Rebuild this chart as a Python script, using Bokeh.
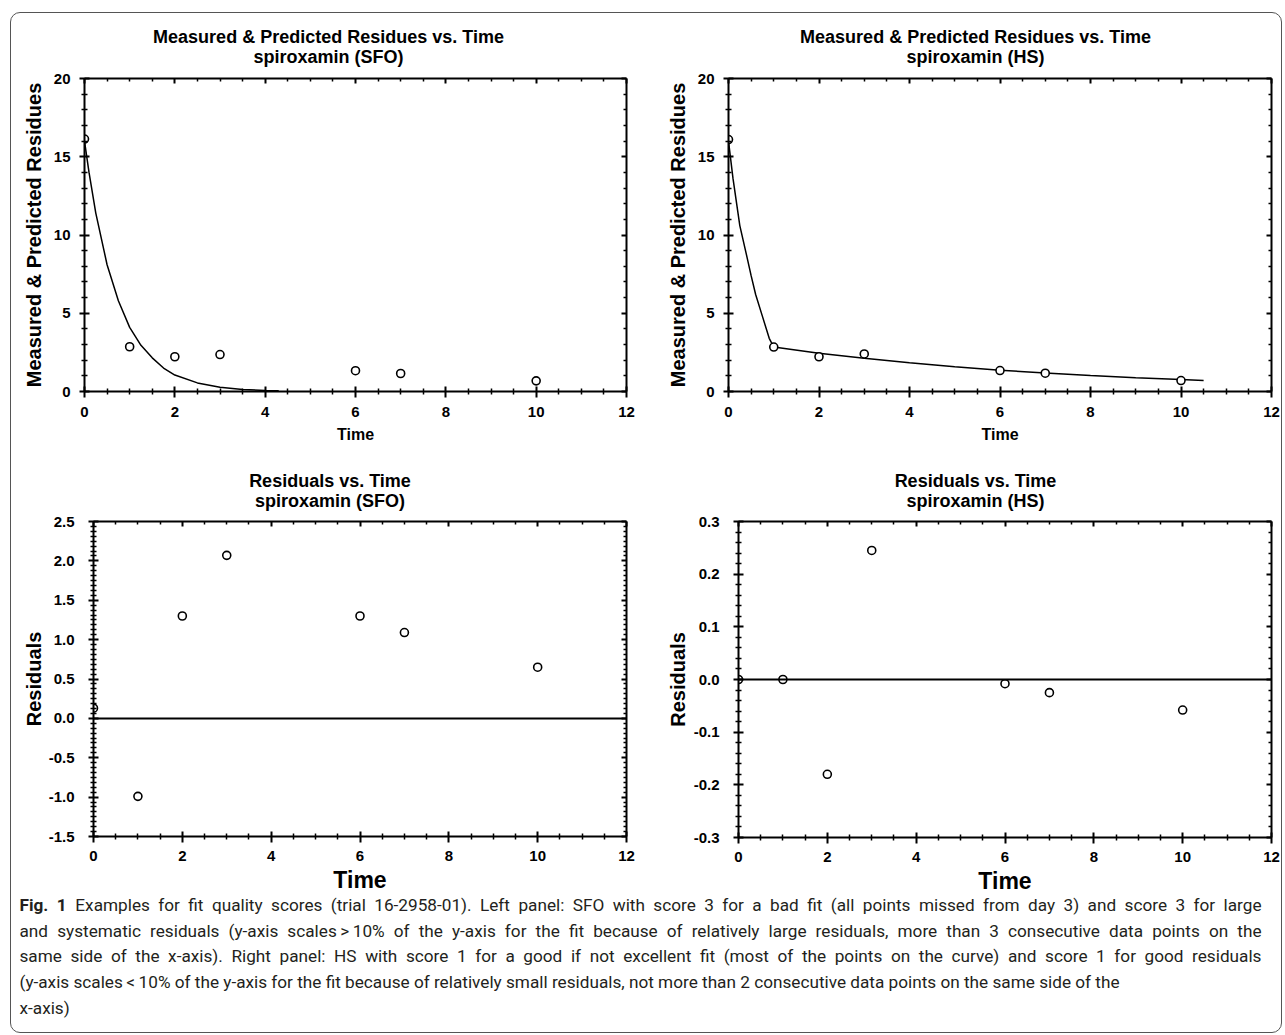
from bokeh.plotting import figure
from bokeh.models import (Range1d, LinearAxis, FixedTicker, PrintfTickFormatter,
                          CustomJSTickFormatter, Span, Div)
from bokeh.layouts import column, row
from bokeh.embed import file_html
from bokeh.resources import INLINE

# ---------------- data ----------------
times = [0, 1, 2, 3, 6, 7, 10]
sfo_measured = [16.13, 2.86, 2.22, 2.36, 1.33, 1.15, 0.68]
hs_measured = [16.10, 2.84, 2.22, 2.40, 1.34, 1.17, 0.70]

sfo_curve_t = [0.0, 0.1, 0.25, 0.5, 0.75, 1.0, 1.25, 1.5, 1.75, 2.0, 2.5, 3.0, 3.5, 4.0, 4.3]
sfo_curve_y = [16.0, 14.0, 11.4, 8.1, 5.8, 4.1, 2.95, 2.15, 1.5, 1.05, 0.55, 0.27, 0.13, 0.06, 0.04]

hs_curve_t = [0.0, 0.1, 0.25, 0.4, 0.5, 0.6, 0.75, 0.9, 1.0, 2.0, 3.0, 4.0, 5.0, 6.0, 7.0, 8.0, 9.0, 10.0, 10.5]
hs_curve_y = [16.0, 13.6, 10.6, 8.7, 7.4, 6.2, 4.8, 3.4, 2.84, 2.45, 2.12, 1.83, 1.58, 1.36, 1.18, 1.02, 0.88, 0.76, 0.70]

sfo_resid = [0.13, -0.99, 1.30, 2.07, 1.30, 1.09, 0.65]
hs_resid = [0.0, 0.0, -0.18, 0.245, -0.008, -0.025, -0.058]

# tick values
x_major = [0, 2, 4, 6, 8, 10, 12]
fit_y_major = [0, 5, 10, 15, 20]
sfo_res_y_major = [-1.5, -1.0, -0.5, 0.0, 0.5, 1.0, 1.5, 2.0, 2.5]
hs_res_y_major = [-0.3, -0.2, -0.1, 0.0, 0.1, 0.2, 0.3]

title_main_top = "Measured &amp; Predicted Residues vs. Time"
title_main_bottom = "Residuals vs. Time"
title_sub_sfo = "spiroxamin (SFO)"
title_sub_hs = "spiroxamin (HS)"
ylabel_top = "Measured & Predicted Residues"
ylabel_bottom = "Residuals"
xlabel = "Time"

caption_lines = [
    "<b>Fig. 1</b>&ensp;Examples for fit quality scores (trial 16-2958-01). Left panel: SFO with score 3 for a bad fit (all points missed from day 3) and score 3 for large",
    "and systematic residuals (y-axis scales&thinsp;&gt;&thinsp;10% of the y-axis for the fit because of relatively large residuals, more than 3 consecutive data points on the",
    "same side of the x-axis). Right panel: HS with score 1 for a good if not excellent fit (most of the points on the curve) and score 1 for good residuals",
    "(y-axis scales&thinsp;&lt;&thinsp;10% of the y-axis for the fit because of relatively small residuals, not more than 2 consecutive data points on the same side of the",
    "x-axis)",
]

FONT = "Liberation Sans"


def minor_between(major, n):
    out = []
    for a, b in zip(major[:-1], major[1:]):
        step = (b - a) / n
        out += [a + k * step for k in range(1, n)]
    return out


def make_panel(t1, t2, ylab, xlab_size, yr, y_major, y_minor_n, y_fmt,
               fw, fh, bl, br, bb, title_shift, title_h, title_pad,
               ylab_standoff, ylab_lstandoff, xlab_lstandoff, xlab_standoff):
    p = figure(title=None, toolbar_location=None, output_backend="svg",
               frame_width=fw, frame_height=fh,
               min_border_left=bl, min_border_right=br, min_border_top=10, min_border_bottom=bb,
               x_range=Range1d(0, 12), y_range=Range1d(*yr),
               x_axis_location=None, y_axis_location=None)
    p.outline_line_color = None
    p.background_fill_color = "white"
    p.border_fill_color = "white"
    p.xgrid.visible = False
    p.ygrid.visible = False

    xt = FixedTicker(ticks=x_major, minor_ticks=minor_between(x_major, 4))
    yt = FixedTicker(ticks=y_major, minor_ticks=minor_between(y_major, y_minor_n))

    def style(ax):
        ax.axis_line_width = 2
        ax.axis_line_color = "black"
        ax.major_tick_line_width = 2
        ax.minor_tick_line_width = 1.5
        ax.major_tick_line_color = "black"
        ax.minor_tick_line_color = "black"
        ax.major_label_text_font = FONT
        ax.major_label_text_font_style = "bold"
        ax.major_label_text_font_size = "15px"
        ax.major_label_text_color = "black"
        ax.axis_label_text_font = FONT
        ax.axis_label_text_font_style = "bold"
        ax.axis_label_text_color = "black"

    bx = LinearAxis(ticker=xt, axis_label=xlabel, formatter=PrintfTickFormatter(format="%d"))
    style(bx)
    bx.major_tick_in = 5
    bx.major_tick_out = 6
    bx.minor_tick_in = 3
    bx.minor_tick_out = 3
    bx.major_label_standoff = xlab_lstandoff
    bx.axis_label_text_font_size = xlab_size
    bx.axis_label_standoff = xlab_standoff
    p.add_layout(bx, "below")

    ly = LinearAxis(ticker=yt, axis_label=ylab, formatter=PrintfTickFormatter(format=y_fmt))
    style(ly)
    ly.major_tick_in = 5
    ly.major_tick_out = 5
    ly.minor_tick_in = 3
    ly.minor_tick_out = 3
    ly.major_label_standoff = ylab_lstandoff
    ly.axis_label_text_font_size = "20px"
    ly.axis_label_standoff = ylab_standoff
    p.add_layout(ly, "left")

    blank = "return ''"
    tx = LinearAxis(ticker=xt, formatter=CustomJSTickFormatter(code=blank))
    style(tx)
    tx.major_tick_in = 5
    tx.major_tick_out = 0
    tx.minor_tick_in = 3
    tx.minor_tick_out = 0
    tx.major_label_standoff = 0
    p.add_layout(tx, "above")

    ry = LinearAxis(ticker=yt, formatter=CustomJSTickFormatter(code=blank))
    style(ry)
    ry.major_tick_in = 5
    ry.major_tick_out = 0
    ry.minor_tick_in = 3
    ry.minor_tick_out = 0
    ry.major_label_standoff = 0
    p.add_layout(ry, "right")

    total_w = bl + fw + br
    title = Div(
        text=(f'<div style="width:{total_w}px; text-align:center; font-family:\'{FONT}\'; '
              f'font-weight:bold; font-size:18px; line-height:20px; color:black; '
              f'padding-top:{title_pad}px; transform:translateX({title_shift}px);">'
              f'{t1}<br>{t2}</div>'),
        width=total_w, height=title_h, margin=0)
    return p, column(title, p)


# top-left: SFO fit
p1, c1 = make_panel(title_main_top, title_sub_sfo, ylabel_top, "16px", (0, 20), fit_y_major, 5, "%d",
                    542, 313, 73, 23, 68, -1.5, 55, 14, 6, 9, 9, 6)
p1.line(sfo_curve_t, sfo_curve_y, line_color="black", line_width=1.5)
p1.scatter(times, sfo_measured, marker="circle", size=8, fill_color="white",
           line_color="black", line_width=1.6)

# top-right: HS fit
p2, c2 = make_panel(title_main_top, title_sub_hs, ylabel_top, "16px", (0, 20), fit_y_major, 5, "%d",
                    543, 313, 79, 10, 68, 10.5, 55, 14, 6, 9, 9, 6)
p2.line(hs_curve_t, hs_curve_y, line_color="black", line_width=1.5)
p2.scatter(times, hs_measured, marker="circle", size=8, fill_color="white",
           line_color="black", line_width=1.6)

# bottom-left: SFO residuals
p3, c3 = make_panel(title_main_bottom, title_sub_sfo, ylabel_bottom, "23px", (-1.5, 2.5), sfo_res_y_major, 8,
                    "%.1f", 533, 315, 82, 23, 55, 0, 52, 12, 1, 14, 8, 3)
p3.add_layout(Span(location=0, dimension="width", line_color="black", line_width=2))
p3.scatter(times, sfo_resid, marker="circle", size=8, fill_color="white",
           line_color="black", line_width=1.6)

# bottom-right: HS residuals
p4, c4 = make_panel(title_main_bottom, title_sub_hs, ylabel_bottom, "23px", (-0.3, 0.3), hs_res_y_major, 5,
                    "%.1f", 533, 316, 89, 10, 54, 10.5, 52, 12, 2, 14, 8, 3)
p4.add_layout(Span(location=0, dimension="width", line_color="black", line_width=2))
p4.scatter(times, hs_resid, marker="circle", size=8, fill_color="white",
           line_color="black", line_width=1.6)

line_style = ("font-family: Roboto, sans-serif; font-size: 17.2px; line-height: 25.7px; "
              "color: #231f20; white-space: nowrap; width: 1242px;")
html = ""
for i, ln in enumerate(caption_lines):
    just = "text-align: justify; text-align-last: justify;" if i < 3 else ""
    html += f'<div style="{line_style}{just}">{ln}</div>'
caption = Div(text=f'<div style="margin-left: 8.5px; position: relative; top: -3px;">{html}</div>',
              width=1268, height=136, margin=0)

layout = column(row(c1, c2), row(c3, c4), caption,
                styles={"border": "1.5px solid #555555", "border-radius": "10px",
                        "background-color": "white", "margin-left": "10px", "margin-top": "12px"})

open("out.html", "w").write(file_html(layout, INLINE))
